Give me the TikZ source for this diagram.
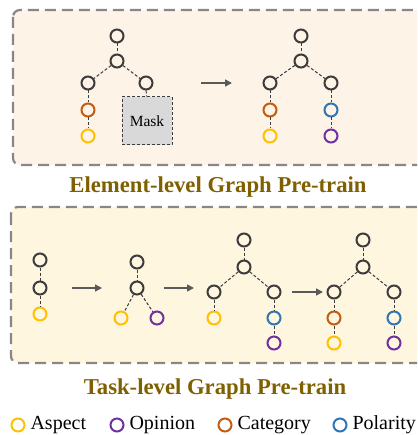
\documentclass[tikz,border=0pt]{standalone}
\usepackage{fontspec}
\setmainfont{Liberation Serif}
\usetikzlibrary{arrows.meta}
\definecolor{knoten}{RGB}{60,60,60}
\definecolor{aspekt}{RGB}{255,192,0}
\definecolor{meinung}{RGB}{112,48,160}
\definecolor{kategorie}{RGB}{197,90,17}
\definecolor{polaritaet}{RGB}{46,117,182}
\definecolor{rahmen}{RGB}{135,135,135}
\definecolor{titel}{RGB}{127,96,0}
\definecolor{pfeil}{RGB}{89,89,89}
\definecolor{oben}{RGB}{253,243,230}
\definecolor{unten}{RGB}{255,246,224}

\begin{document}
\begin{tikzpicture}[x=1pt, y=-1pt,
    vertex/.style={circle, draw=#1, line width=2pt, minimum size=13pt, inner sep=0pt},
    vertex/.default=knoten,
    edge/.style={line width=1pt, knoten, dash pattern=on 3pt off 2pt},
    panel/.style={line width=2.2pt, rahmen, dash pattern=on 11pt off 6pt, rounded corners=7pt},
    step arrow/.style={line width=1.4pt, pfeil, -{Triangle[length=7pt,width=7pt]}},
    heading/.style={titel, font=\fontsize{22.7}{26}\selectfont\bfseries},
    legend/.style={anchor=west, font=\fontsize{20}{23}\selectfont}]

    \useasboundingbox (0,0) rectangle (417,435);
    \clip (0,0) rectangle (417,435);

    % boxes
    \draw[panel, fill=oben] (13,10) rectangle (440,165);
    \draw[panel, fill=unten] (11,207) rectangle (440,363);

    \node[heading] (elemtitle) at (218,187) {Element-level Graph Pre-train};
    \node[heading] (tasktitle) at (215,389) {Task-level Graph Pre-train};

    % element level, masked tree
    \node[vertex] (ea1) at (117,36) {};
    \node[vertex] (ea2) at (117,61) {};
    \node[vertex] (ea3) at (88,83) {};
    \node[vertex] (ea4) at (146,83) {};
    \node[vertex=kategorie] (ea5) at (88,110) {};
    \node[vertex=aspekt] (ea6) at (88,136) {};
    \node[draw=knoten, fill=black!15, line width=1pt, dash pattern=on 3pt off 2pt,
          minimum width=50pt, minimum height=48pt, inner sep=0pt,
          font=\fontsize{15.5}{18}\selectfont] (mask) at (147,121) {Mask};
    \draw[edge] (ea1) -- (ea2);
    \draw[edge] (ea2) -- (ea3);
    \draw[edge] (ea2) -- (ea4);
    \draw[edge] (ea3) -- (ea5);
    \draw[edge] (ea5) -- (ea6);
    \draw[edge] (ea4) -- (mask);

    \coordinate (ep1) at (201,83);
    \coordinate (ep2) at (232,83);
    \draw[step arrow] (ep1) -- (ep2);

    % element level, full tree
    \node[vertex] (eb1) at (301,36) {};
    \node[vertex] (eb2) at (301,61) {};
    \node[vertex] (eb3) at (270,83) {};
    \node[vertex] (eb4) at (331,83) {};
    \node[vertex=kategorie] (eb5) at (270,110) {};
    \node[vertex=aspekt] (eb6) at (270,136) {};
    \node[vertex=polaritaet] (eb7) at (331,110) {};
    \node[vertex=meinung] (eb8) at (331,136) {};
    \draw[edge] (eb1) -- (eb2);
    \draw[edge] (eb2) -- (eb3);
    \draw[edge] (eb2) -- (eb4);
    \draw[edge] (eb3) -- (eb5);
    \draw[edge] (eb5) -- (eb6);
    \draw[edge] (eb4) -- (eb7);
    \draw[edge] (eb7) -- (eb8);

    % task level, step 1
    \node[vertex] (ta1) at (40,260) {};
    \node[vertex] (ta2) at (40,288) {};
    \node[vertex=aspekt] (ta3) at (40,314) {};
    \draw[edge] (ta1) -- (ta2);
    \draw[edge] (ta2) -- (ta3);

    \coordinate (tp1) at (72,288);
    \coordinate (tp2) at (102,288);
    \draw[step arrow] (tp1) -- (tp2);

    % task level, step 2
    \node[vertex] (tb1) at (137,262) {};
    \node[vertex] (tb2) at (137,288) {};
    \node[vertex=aspekt] (tb3) at (121,318) {};
    \node[vertex=meinung] (tb4) at (157,318) {};
    \draw[edge] (tb1) -- (tb2);
    \draw[edge] (tb2) -- (tb3);
    \draw[edge] (tb2) -- (tb4);

    \coordinate (tp3) at (164,288);
    \coordinate (tp4) at (194,288);
    \draw[step arrow] (tp3) -- (tp4);

    % task level, step 3
    \node[vertex] (tc1) at (244,240) {};
    \node[vertex] (tc2) at (244,267) {};
    \node[vertex] (tc3) at (214,292) {};
    \node[vertex] (tc4) at (274,292) {};
    \node[vertex=aspekt] (tc5) at (214,318) {};
    \node[vertex=polaritaet] (tc6) at (274,318) {};
    \node[vertex=meinung] (tc7) at (274,343) {};
    \draw[edge] (tc1) -- (tc2);
    \draw[edge] (tc2) -- (tc3);
    \draw[edge] (tc2) -- (tc4);
    \draw[edge] (tc3) -- (tc5);
    \draw[edge] (tc4) -- (tc6);
    \draw[edge] (tc6) -- (tc7);

    \coordinate (tp5) at (292,292);
    \coordinate (tp6) at (323,292);
    \draw[step arrow] (tp5) -- (tp6);

    % task level, step 4
    \node[vertex] (td1) at (363,240) {};
    \node[vertex] (td2) at (363,267) {};
    \node[vertex] (td3) at (334,292) {};
    \node[vertex] (td4) at (394,292) {};
    \node[vertex=kategorie] (td5) at (334,318) {};
    \node[vertex=aspekt] (td6) at (334,343) {};
    \node[vertex=polaritaet] (td7) at (394,318) {};
    \node[vertex=meinung] (td8) at (394,343) {};
    \draw[edge] (td1) -- (td2);
    \draw[edge] (td2) -- (td3);
    \draw[edge] (td2) -- (td4);
    \draw[edge] (td3) -- (td5);
    \draw[edge] (td5) -- (td6);
    \draw[edge] (td4) -- (td7);
    \draw[edge] (td7) -- (td8);

    % legend
    \node[vertex=aspekt] (la) at (18,425) {};
    \node[legend] (lat) at (27,425) {Aspect};
    \node[vertex=meinung] (lo) at (117,425) {};
    \node[legend] (lot) at (126,425) {Opinion};
    \node[vertex=kategorie] (lk) at (225,425) {};
    \node[legend] (lkt) at (234,425) {Category};
    \node[vertex=polaritaet] (lp) at (340,425) {};
    \node[legend] (lpt) at (349,425) {Polarity};

\end{tikzpicture}
\end{document}
